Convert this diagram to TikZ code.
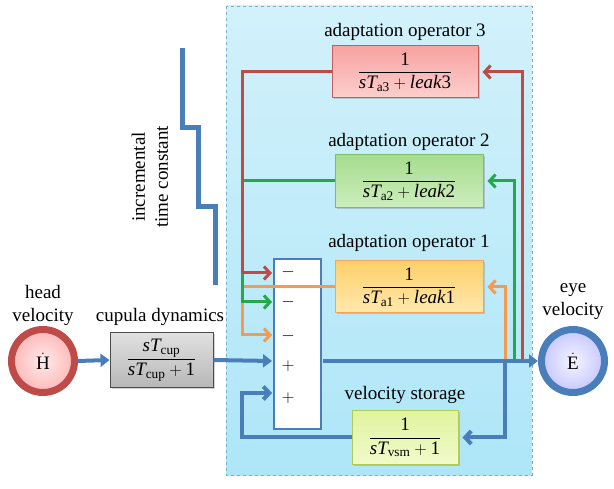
\documentclass[tikz,border=0pt]{standalone}
\usepackage{fontspec}
\setmainfont{Liberation Serif}
\usepackage{amsmath}
\usetikzlibrary{arrows.meta,shadows}
\definecolor{cblue}{HTML}{4A7EBB}
\definecolor{cred}{HTML}{BE4B48}
\definecolor{cgreen}{HTML}{23A84A}
\definecolor{corange}{HTML}{F59A4E}
\definecolor{bgtop}{HTML}{D2F1FB}
\definecolor{bgbot}{HTML}{AEE6F8}
\definecolor{bgdraw}{HTML}{7BAFC4}
\definecolor{gtop}{HTML}{A6DC8E}
\definecolor{gbot}{HTML}{CDEEBD}
\definecolor{gdraw}{HTML}{7CBF62}
\definecolor{otop}{HTML}{FFD06A}
\definecolor{obot}{HTML}{FFE8AE}
\definecolor{rtop}{HTML}{F7A3A1}
\definecolor{rbot}{HTML}{FCCFCE}
\definecolor{vtop}{HTML}{E0F4A0}
\definecolor{vbot}{HTML}{F1FACB}
\definecolor{vdraw}{HTML}{B0CC55}
\newcommand{\myfrac}[2]{$\dfrac{#1}{#2}$}
\begin{document}
\begin{tikzpicture}[x=1pt,y=-1pt,
  font=\fontsize{19}{23}\selectfont,
  lbl/.style={inner sep=0pt, align=center},
  tfbox/.style={draw, line width=1pt, inner sep=0pt, drop shadow={opacity=0.35, shadow xshift=1.5pt, shadow yshift=-1.5pt}},
  conn/.style={line width=3pt, line join=miter},
  barb/.style={-{Straight Barb[length=6pt,width=13pt]}},
  tri/.style={-{Triangle[length=9pt,width=13pt]}},
  sig/.style={circle, line width=7pt, minimum size=63pt, inner sep=0pt, drop shadow={opacity=0.3, shadow xshift=1.5pt, shadow yshift=-1.5pt}}
]
\useasboundingbox (0,0) rectangle (614,489);
% panel
\shade[top color=bgtop, bottom color=bgbot] (226,6) rectangle (532,475);
\draw[bgdraw, dashed, line width=0.8pt] (226,6) rectangle (532,475);

% staircase
\draw[cblue, line width=5pt, line join=miter] (182,48) -- (182,128) -- (198,128) -- (198,207) -- (215,207) -- (215,285);
\node[lbl, rotate=90] (itc) at (150,177) {incremental\\time constant};

% boxes
\node[tfbox, draw=cred!90, top color=rtop, bottom color=rbot, minimum width=146pt, minimum height=52pt] (op3) at (405,72)
  {\myfrac{\text{1}}{\textit{sT}_{\text{a3}}+\textit{leak}\text{3}}};
\node[lbl] (l3) at (405,32) {adaptation operator 3};

\node[tfbox, draw=gdraw, top color=gtop, bottom color=gbot, minimum width=148pt, minimum height=53pt] (op2) at (409,181)
  {\myfrac{\text{1}}{\textit{sT}_{\text{a2}}+\textit{leak}\text{2}}};
\node[lbl] (l2) at (409,142) {adaptation operator 2};

\node[tfbox, draw=corange!90, top color=otop, bottom color=obot, minimum width=148pt, minimum height=52pt] (op1) at (409,287)
  {\myfrac{\text{1}}{\textit{sT}_{\text{a1}}+\textit{leak}\text{1}}};
\node[lbl] (l1) at (409,243) {adaptation operator 1};

\node[tfbox, draw=vdraw, top color=vtop, bottom color=vbot, minimum width=106pt, minimum height=53pt] (vs) at (405,437.5)
  {\myfrac{\text{1}}{\textit{sT}_{\text{vsm}}+\text{1}}};
\node[lbl] (lvs) at (405,395) {velocity storage};

\node[tfbox, draw=black!70, top color=black!12, bottom color=black!28, minimum width=103pt, minimum height=55pt] (cup) at (161.5,360)
  {\myfrac{\textit{sT}_{\text{cup}}}{\textit{sT}_{\text{cup}}+\text{1}}};
\node[lbl] (lcup) at (160,317) {cupula dynamics};

% summing junction
\node[draw=cblue, line width=2.5pt, fill=white, minimum width=47pt, minimum height=170pt, inner sep=0pt] (sum) at (297.5,344) {};
\node (m1) at (288,272) {$-$};
\node (m2) at (288,302) {$-$};
\node (m3) at (288,336) {$-$};
\node (p1) at (288,366) {$+$};
\node (p2) at (288,398) {$+$};
\coordinate (s1) at (272,273);
\coordinate (s2) at (272,302);
\coordinate (s3) at (272,335);
\coordinate (s4) at (272,361);
\coordinate (s5) at (272,393);
\coordinate (so) at (323,361);

% signals
\node[sig, draw=cred, inner color=red!8!white, outer color=red!28!white] (head) at (43,361) {$\dot{\text{H}}$};
\node[lbl] (lhead) at (43,305) {head\\velocity};
\node[sig, draw=cblue, inner color=blue!4!white, outer color=blue!22!white] (eye) at (573,361) {$\dot{\text{E}}$};
\node[lbl] (leye) at (573,302) {eye\\velocity};

% taps on main line
\coordinate (tO) at (505,361);
\coordinate (tG) at (514,361);
\coordinate (tR) at (522,361);
\coordinate (tB) at (505,361);

% left feedback lines
\draw[conn, corange, barb] (op1.west) -| (242,335) -- (s3);
\draw[conn, cgreen, barb] (op2.west) -| (242,302) -- (s2);
\draw[conn, cred, barb] (op3.west) -| (242,273) -- (s1);

% right feed lines
\draw[conn, cred, barb, shorten >=4pt] (tR) |- (op3.east);
\draw[conn, cgreen, barb, shorten >=4pt] (tG) |- (op2.east);
\draw[conn, corange, barb, shorten >=4pt] (tO) |- (op1.east);

% main path
\draw[cblue, line width=4pt, tri] (head.east) -- (cup.west);
\draw[cblue, line width=4pt, tri] (cup.east) -- (s4);
\draw[cblue, line width=4pt, tri] (so) -- (eye.west);
\draw[cblue, line width=4pt, barb, shorten >=4pt] (tB) |- (vs.east);
\draw[cblue, line width=4pt, barb] (vs.west) -| (242,393) -- (s5);
\end{tikzpicture}
\end{document}
